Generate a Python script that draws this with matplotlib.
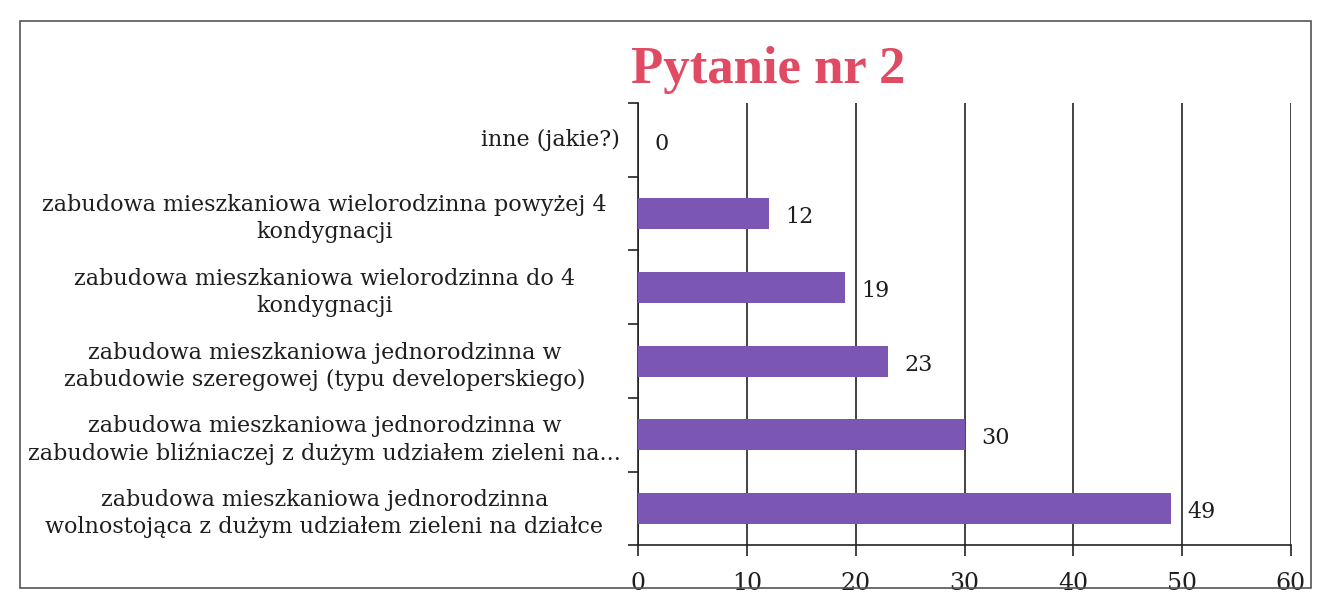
import matplotlib
matplotlib.use("Agg")
import matplotlib.pyplot as plt
import matplotlib.transforms as mtransforms
from matplotlib.patches import Rectangle

categories = [
    "zabudowa mieszkaniowa jednorodzinna\nwolnostojąca z dużym udziałem zieleni na działce",
    "zabudowa mieszkaniowa jednorodzinna w\nzabudowie bliźniaczej z dużym udziałem zieleni na...",
    "zabudowa mieszkaniowa jednorodzinna w\nzabudowie szeregowej (typu developerskiego)",
    "zabudowa mieszkaniowa wielorodzinna do 4\nkondygnacji",
    "zabudowa mieszkaniowa wielorodzinna powyżej 4\nkondygnacji",
    "inne (jakie?)",
]
values = [49, 30, 23, 19, 12, 0]
xticks = [0, 10, 20, 30, 40, 50, 60]

plt.rcParams['font.family'] = ['DejaVu Serif', 'Liberation Serif']
text_col = "#1e1e1e"
fs = 16

fig = plt.figure(figsize=(13.24, 6.06), dpi=100)
ax = fig.add_axes([0.482, 0.10, 0.493, 0.73])

pos = list(range(len(values)))
ax.barh(pos, values, height=0.42, color="#7b56b2", zorder=3)
for y, v in zip(pos, values):
    ax.text(v + 1.5, y - 0.05, str(v), va="center", ha="left", fontsize=fs, color=text_col)

ax.set_xlim(0, 60)
ax.set_ylim(-0.5, len(values) - 0.5)
ax.set_xticks(xticks)
ax.set_xticklabels([str(t) for t in xticks], fontsize=17, color=text_col)
ax.set_yticks(pos)
# single-line labels sit right-aligned next to the axis, wrapped ones are centred
ax.set_yticklabels([c if "\n" in c else "" for c in categories], fontsize=fs,
                   color=text_col, ha="center", linespacing=1.3)
lab_tr = mtransforms.blended_transform_factory(ax.transAxes, ax.transData)
for y, c in zip(pos, categories):
    if "\n" not in c:
        ax.text(-0.028, y, c, transform=lab_tr, ha="right", va="center",
                fontsize=fs, color=text_col)
ax.tick_params(axis="y", length=0, pad=226)
ax.tick_params(axis="x", length=8, width=1.2, pad=11, color="#222222")
ax.xaxis.grid(True, color="#222222", linewidth=1.2, zorder=0)
for s in ["top", "right"]:
    ax.spines[s].set_visible(False)
ax.spines["bottom"].set_color("#222222")
ax.spines["left"].set_color("#222222")
ax.spines["bottom"].set_linewidth(1.2)
ax.spines["left"].set_linewidth(1.2)
# minor ticks between categories on the left axis
ax.set_yticks([p + 0.5 for p in range(-1, len(values))], minor=True)
ax.tick_params(axis="y", which="minor", length=7, width=1.2, color="#222222")

fig.text(0.58, 0.885, "Pytanie nr 2", fontsize=38, fontweight="bold",
         color="#e04a62", ha="center", va="center",
         family=["Liberation Serif", "DejaVu Serif"])

fig.patches.append(Rectangle((0.015, 0.03), 0.975, 0.935, transform=fig.transFigure,
                             fill=False, edgecolor="#555555", linewidth=1.2))

fig.savefig("out.png", dpi=100)
